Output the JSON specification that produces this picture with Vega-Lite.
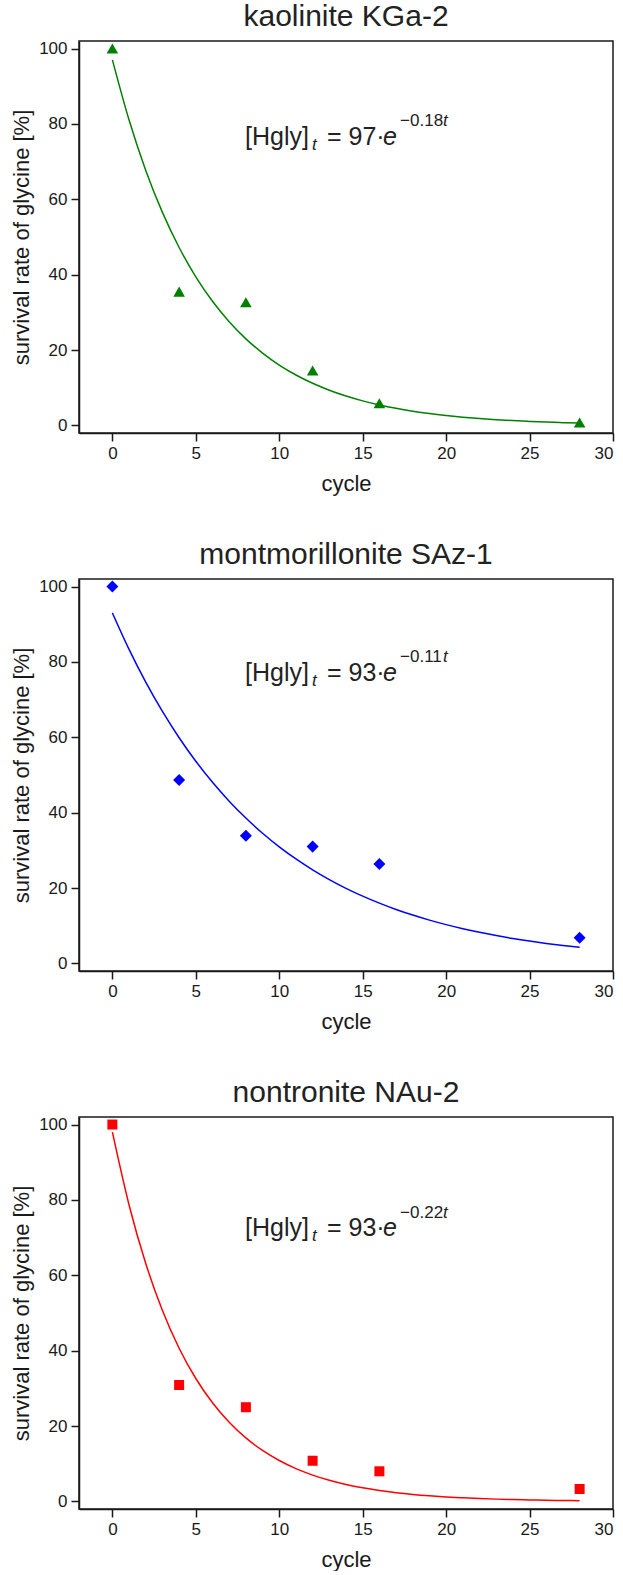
{
  "$schema": "https://vega.github.io/schema/vega-lite/v6.json",
  "background": "white",
  "padding": {"left": 9, "top": 0, "right": 0, "bottom": 0},
  "spacing": 43,
  "datasets": {
    "points": [
      {"panel": 1, "cycle": 0, "rate": 100},
      {"panel": 1, "cycle": 4, "rate": 35.5},
      {"panel": 1, "cycle": 8, "rate": 32.7},
      {"panel": 1, "cycle": 12, "rate": 14.6},
      {"panel": 1, "cycle": 16, "rate": 5.9},
      {"panel": 1, "cycle": 28, "rate": 0.8},
      {"panel": 2, "cycle": 0, "rate": 100},
      {"panel": 2, "cycle": 4, "rate": 48.7},
      {"panel": 2, "cycle": 8, "rate": 33.9},
      {"panel": 2, "cycle": 12, "rate": 31.0},
      {"panel": 2, "cycle": 16, "rate": 26.4},
      {"panel": 2, "cycle": 28, "rate": 6.8},
      {"panel": 3, "cycle": 0, "rate": 100},
      {"panel": 3, "cycle": 4, "rate": 30.9},
      {"panel": 3, "cycle": 8, "rate": 25.0},
      {"panel": 3, "cycle": 12, "rate": 10.8},
      {"panel": 3, "cycle": 16, "rate": 8.0},
      {"panel": 3, "cycle": 28, "rate": 3.3}
    ],
    "curves": [
      {"panel": 1, "cycle": 0, "rate": 97}, {"panel": 1, "cycle": 1, "rate": 81.02}, {"panel": 1, "cycle": 2, "rate": 67.67}, {"panel": 1, "cycle": 3, "rate": 56.53}, {"panel": 1, "cycle": 4, "rate": 47.22}, {"panel": 1, "cycle": 5, "rate": 39.44}, {"panel": 1, "cycle": 6, "rate": 32.94}, {"panel": 1, "cycle": 7, "rate": 27.52}, {"panel": 1, "cycle": 8, "rate": 22.98}, {"panel": 1, "cycle": 9, "rate": 19.2}, {"panel": 1, "cycle": 10, "rate": 16.03}, {"panel": 1, "cycle": 11, "rate": 13.39}, {"panel": 1, "cycle": 12, "rate": 11.19}, {"panel": 1, "cycle": 13, "rate": 9.34}, {"panel": 1, "cycle": 14, "rate": 7.8}, {"panel": 1, "cycle": 15, "rate": 6.52}, {"panel": 1, "cycle": 16, "rate": 5.45}, {"panel": 1, "cycle": 17, "rate": 4.55}, {"panel": 1, "cycle": 18, "rate": 3.8}, {"panel": 1, "cycle": 19, "rate": 3.17}, {"panel": 1, "cycle": 20, "rate": 2.65}, {"panel": 1, "cycle": 21, "rate": 2.21}, {"panel": 1, "cycle": 22, "rate": 1.85}, {"panel": 1, "cycle": 23, "rate": 1.54}, {"panel": 1, "cycle": 24, "rate": 1.29}, {"panel": 1, "cycle": 25, "rate": 1.08}, {"panel": 1, "cycle": 26, "rate": 0.9}, {"panel": 1, "cycle": 27, "rate": 0.75}, {"panel": 1, "cycle": 28, "rate": 0.63},
      {"panel": 2, "cycle": 0, "rate": 93}, {"panel": 2, "cycle": 1, "rate": 83.31}, {"panel": 2, "cycle": 2, "rate": 74.63}, {"panel": 2, "cycle": 3, "rate": 66.86}, {"panel": 2, "cycle": 4, "rate": 59.89}, {"panel": 2, "cycle": 5, "rate": 53.65}, {"panel": 2, "cycle": 6, "rate": 48.06}, {"panel": 2, "cycle": 7, "rate": 43.06}, {"panel": 2, "cycle": 8, "rate": 38.57}, {"panel": 2, "cycle": 9, "rate": 34.55}, {"panel": 2, "cycle": 10, "rate": 30.95}, {"panel": 2, "cycle": 11, "rate": 27.73}, {"panel": 2, "cycle": 12, "rate": 24.84}, {"panel": 2, "cycle": 13, "rate": 22.25}, {"panel": 2, "cycle": 14, "rate": 19.93}, {"panel": 2, "cycle": 15, "rate": 17.86}, {"panel": 2, "cycle": 16, "rate": 16.0}, {"panel": 2, "cycle": 17, "rate": 14.33}, {"panel": 2, "cycle": 18, "rate": 12.84}, {"panel": 2, "cycle": 19, "rate": 11.5}, {"panel": 2, "cycle": 20, "rate": 10.3}, {"panel": 2, "cycle": 21, "rate": 9.23}, {"panel": 2, "cycle": 22, "rate": 8.27}, {"panel": 2, "cycle": 23, "rate": 7.41}, {"panel": 2, "cycle": 24, "rate": 6.63}, {"panel": 2, "cycle": 25, "rate": 5.94}, {"panel": 2, "cycle": 26, "rate": 5.32}, {"panel": 2, "cycle": 27, "rate": 4.77}, {"panel": 2, "cycle": 28, "rate": 4.27},
      {"panel": 3, "cycle": 0, "rate": 98}, {"panel": 3, "cycle": 1, "rate": 78.65}, {"panel": 3, "cycle": 2, "rate": 63.12}, {"panel": 3, "cycle": 3, "rate": 50.65}, {"panel": 3, "cycle": 4, "rate": 40.65}, {"panel": 3, "cycle": 5, "rate": 32.62}, {"panel": 3, "cycle": 6, "rate": 26.18}, {"panel": 3, "cycle": 7, "rate": 21.01}, {"panel": 3, "cycle": 8, "rate": 16.86}, {"panel": 3, "cycle": 9, "rate": 13.53}, {"panel": 3, "cycle": 10, "rate": 10.86}, {"panel": 3, "cycle": 11, "rate": 8.71}, {"panel": 3, "cycle": 12, "rate": 6.99}, {"panel": 3, "cycle": 13, "rate": 5.61}, {"panel": 3, "cycle": 14, "rate": 4.5}, {"panel": 3, "cycle": 15, "rate": 3.61}, {"panel": 3, "cycle": 16, "rate": 2.9}, {"panel": 3, "cycle": 17, "rate": 2.33}, {"panel": 3, "cycle": 18, "rate": 1.87}, {"panel": 3, "cycle": 19, "rate": 1.5}, {"panel": 3, "cycle": 20, "rate": 1.2}, {"panel": 3, "cycle": 21, "rate": 0.97}, {"panel": 3, "cycle": 22, "rate": 0.78}, {"panel": 3, "cycle": 23, "rate": 0.62}, {"panel": 3, "cycle": 24, "rate": 0.5}, {"panel": 3, "cycle": 25, "rate": 0.4}, {"panel": 3, "cycle": 26, "rate": 0.32}, {"panel": 3, "cycle": 27, "rate": 0.26}, {"panel": 3, "cycle": 28, "rate": 0.21}
    ],
    "labels": [
      {"panel": 1, "part": "main", "label": "[Hgly]", "cycle": 7.95, "rate": 74.5},
      {"panel": 1, "part": "sub", "label": "t", "cycle": 11.97, "rate": 73.2},
      {"panel": 1, "part": "main", "label": "= 97·", "cycle": 12.86, "rate": 74.5},
      {"panel": 1, "part": "mainit", "label": "e", "cycle": 16.21, "rate": 74.5},
      {"panel": 1, "part": "sup", "label": "−0.18", "cycle": 17.24, "rate": 79.36},
      {"panel": 1, "part": "supit", "label": "t", "cycle": 19.82, "rate": 79.36},
      {"panel": 2, "part": "main", "label": "[Hgly]", "cycle": 7.95, "rate": 75.0},
      {"panel": 2, "part": "sub", "label": "t", "cycle": 11.97, "rate": 73.7},
      {"panel": 2, "part": "main", "label": "= 93·", "cycle": 12.86, "rate": 75.0},
      {"panel": 2, "part": "mainit", "label": "e", "cycle": 16.21, "rate": 75.0},
      {"panel": 2, "part": "sup", "label": "−0.11", "cycle": 17.24, "rate": 79.86},
      {"panel": 2, "part": "supit", "label": "t", "cycle": 19.82, "rate": 79.86},
      {"panel": 3, "part": "main", "label": "[Hgly]", "cycle": 7.95, "rate": 70.4},
      {"panel": 3, "part": "sub", "label": "t", "cycle": 11.97, "rate": 69.1},
      {"panel": 3, "part": "main", "label": "= 93·", "cycle": 12.86, "rate": 70.4},
      {"panel": 3, "part": "mainit", "label": "e", "cycle": 16.21, "rate": 70.4},
      {"panel": 3, "part": "sup", "label": "−0.22", "cycle": 17.24, "rate": 75.26},
      {"panel": 3, "part": "supit", "label": "t", "cycle": 19.82, "rate": 75.26}
    ]
  },
  "vconcat": [
    {
      "title": "kaolinite KGa-2",
      "width": 534, "height": 392,
      "layer": [
        {"data": {"name": "curves"}, "transform": [{"filter": "datum.panel == 1"}], "mark": {"type": "line", "color": "#008000", "strokeWidth": 1.5, "interpolate": "monotone"},
         "encoding": {
           "x": {"field": "cycle", "type": "quantitative", "scale": {"domain": [-2, 30], "nice": false, "zero": false}, "axis": {"values": [0, 5, 10, 15, 20, 25, 30], "title": "cycle"}},
           "y": {"field": "rate", "type": "quantitative", "scale": {"domain": [-2, 102], "nice": false, "zero": false}, "axis": {"values": [0, 20, 40, 60, 80, 100], "title": "survival rate of glycine [%]"}}}},
        {"data": {"name": "points"}, "transform": [{"filter": "datum.panel == 1"}], "mark": {"type": "point", "shape": "triangle-up", "filled": true, "opacity": 1, "color": "#008000", "size": 135},
         "encoding": {"x": {"field": "cycle", "type": "quantitative"}, "y": {"field": "rate", "type": "quantitative"}}},
        {"data": {"name": "labels"}, "transform": [{"filter": "datum.panel == 1 && datum.part == 'main'"}], "mark": {"type": "text", "align": "left", "baseline": "alphabetic", "fontSize": 25, "color": "#222"},
         "encoding": {"x": {"field": "cycle", "type": "quantitative"}, "y": {"field": "rate", "type": "quantitative"}, "text": {"field": "label"}}},
        {"data": {"name": "labels"}, "transform": [{"filter": "datum.panel == 1 && datum.part == 'mainit'"}], "mark": {"type": "text", "align": "left", "baseline": "alphabetic", "fontSize": 25, "fontStyle": "italic", "color": "#222"},
         "encoding": {"x": {"field": "cycle", "type": "quantitative"}, "y": {"field": "rate", "type": "quantitative"}, "text": {"field": "label"}}},
        {"data": {"name": "labels"}, "transform": [{"filter": "datum.panel == 1 && datum.part == 'sub'"}], "mark": {"type": "text", "align": "left", "baseline": "alphabetic", "fontSize": 17, "fontStyle": "italic", "color": "#222"},
         "encoding": {"x": {"field": "cycle", "type": "quantitative"}, "y": {"field": "rate", "type": "quantitative"}, "text": {"field": "label"}}},
        {"data": {"name": "labels"}, "transform": [{"filter": "datum.panel == 1 && datum.part == 'sup'"}], "mark": {"type": "text", "align": "left", "baseline": "alphabetic", "fontSize": 17, "color": "#222"},
         "encoding": {"x": {"field": "cycle", "type": "quantitative"}, "y": {"field": "rate", "type": "quantitative"}, "text": {"field": "label"}}},
        {"data": {"name": "labels"}, "transform": [{"filter": "datum.panel == 1 && datum.part == 'supit'"}], "mark": {"type": "text", "align": "left", "baseline": "alphabetic", "fontSize": 17, "fontStyle": "italic", "color": "#222"},
         "encoding": {"x": {"field": "cycle", "type": "quantitative"}, "y": {"field": "rate", "type": "quantitative"}, "text": {"field": "label"}}}
      ]
    },
    {
      "title": "montmorillonite SAz-1",
      "width": 534, "height": 392,
      "layer": [
        {"data": {"name": "curves"}, "transform": [{"filter": "datum.panel == 2"}], "mark": {"type": "line", "color": "#0000ff", "strokeWidth": 1.5, "interpolate": "monotone"},
         "encoding": {
           "x": {"field": "cycle", "type": "quantitative", "scale": {"domain": [-2, 30], "nice": false, "zero": false}, "axis": {"values": [0, 5, 10, 15, 20, 25, 30], "title": "cycle"}},
           "y": {"field": "rate", "type": "quantitative", "scale": {"domain": [-2, 102], "nice": false, "zero": false}, "axis": {"values": [0, 20, 40, 60, 80, 100], "title": "survival rate of glycine [%]"}}}},
        {"data": {"name": "points"}, "transform": [{"filter": "datum.panel == 2"}], "mark": {"type": "point", "shape": "diamond", "filled": true, "opacity": 1, "color": "#0000ff", "size": 145},
         "encoding": {"x": {"field": "cycle", "type": "quantitative"}, "y": {"field": "rate", "type": "quantitative"}}},
        {"data": {"name": "labels"}, "transform": [{"filter": "datum.panel == 2 && datum.part == 'main'"}], "mark": {"type": "text", "align": "left", "baseline": "alphabetic", "fontSize": 25, "color": "#222"},
         "encoding": {"x": {"field": "cycle", "type": "quantitative"}, "y": {"field": "rate", "type": "quantitative"}, "text": {"field": "label"}}},
        {"data": {"name": "labels"}, "transform": [{"filter": "datum.panel == 2 && datum.part == 'mainit'"}], "mark": {"type": "text", "align": "left", "baseline": "alphabetic", "fontSize": 25, "fontStyle": "italic", "color": "#222"},
         "encoding": {"x": {"field": "cycle", "type": "quantitative"}, "y": {"field": "rate", "type": "quantitative"}, "text": {"field": "label"}}},
        {"data": {"name": "labels"}, "transform": [{"filter": "datum.panel == 2 && datum.part == 'sub'"}], "mark": {"type": "text", "align": "left", "baseline": "alphabetic", "fontSize": 17, "fontStyle": "italic", "color": "#222"},
         "encoding": {"x": {"field": "cycle", "type": "quantitative"}, "y": {"field": "rate", "type": "quantitative"}, "text": {"field": "label"}}},
        {"data": {"name": "labels"}, "transform": [{"filter": "datum.panel == 2 && datum.part == 'sup'"}], "mark": {"type": "text", "align": "left", "baseline": "alphabetic", "fontSize": 17, "color": "#222"},
         "encoding": {"x": {"field": "cycle", "type": "quantitative"}, "y": {"field": "rate", "type": "quantitative"}, "text": {"field": "label"}}},
        {"data": {"name": "labels"}, "transform": [{"filter": "datum.panel == 2 && datum.part == 'supit'"}], "mark": {"type": "text", "align": "left", "baseline": "alphabetic", "fontSize": 17, "fontStyle": "italic", "color": "#222"},
         "encoding": {"x": {"field": "cycle", "type": "quantitative"}, "y": {"field": "rate", "type": "quantitative"}, "text": {"field": "label"}}}
      ]
    },
    {
      "title": "nontronite NAu-2",
      "width": 534, "height": 392,
      "layer": [
        {"data": {"name": "curves"}, "transform": [{"filter": "datum.panel == 3"}], "mark": {"type": "line", "color": "#ff0000", "strokeWidth": 1.5, "interpolate": "monotone"},
         "encoding": {
           "x": {"field": "cycle", "type": "quantitative", "scale": {"domain": [-2, 30], "nice": false, "zero": false}, "axis": {"values": [0, 5, 10, 15, 20, 25, 30], "title": "cycle"}},
           "y": {"field": "rate", "type": "quantitative", "scale": {"domain": [-2, 102], "nice": false, "zero": false}, "axis": {"values": [0, 20, 40, 60, 80, 100], "title": "survival rate of glycine [%]"}}}},
        {"data": {"name": "points"}, "transform": [{"filter": "datum.panel == 3"}], "mark": {"type": "point", "shape": "square", "filled": true, "opacity": 1, "color": "#ff0000", "size": 100},
         "encoding": {"x": {"field": "cycle", "type": "quantitative"}, "y": {"field": "rate", "type": "quantitative"}}},
        {"data": {"name": "labels"}, "transform": [{"filter": "datum.panel == 3 && datum.part == 'main'"}], "mark": {"type": "text", "align": "left", "baseline": "alphabetic", "fontSize": 25, "color": "#222"},
         "encoding": {"x": {"field": "cycle", "type": "quantitative"}, "y": {"field": "rate", "type": "quantitative"}, "text": {"field": "label"}}},
        {"data": {"name": "labels"}, "transform": [{"filter": "datum.panel == 3 && datum.part == 'mainit'"}], "mark": {"type": "text", "align": "left", "baseline": "alphabetic", "fontSize": 25, "fontStyle": "italic", "color": "#222"},
         "encoding": {"x": {"field": "cycle", "type": "quantitative"}, "y": {"field": "rate", "type": "quantitative"}, "text": {"field": "label"}}},
        {"data": {"name": "labels"}, "transform": [{"filter": "datum.panel == 3 && datum.part == 'sub'"}], "mark": {"type": "text", "align": "left", "baseline": "alphabetic", "fontSize": 17, "fontStyle": "italic", "color": "#222"},
         "encoding": {"x": {"field": "cycle", "type": "quantitative"}, "y": {"field": "rate", "type": "quantitative"}, "text": {"field": "label"}}},
        {"data": {"name": "labels"}, "transform": [{"filter": "datum.panel == 3 && datum.part == 'sup'"}], "mark": {"type": "text", "align": "left", "baseline": "alphabetic", "fontSize": 17, "color": "#222"},
         "encoding": {"x": {"field": "cycle", "type": "quantitative"}, "y": {"field": "rate", "type": "quantitative"}, "text": {"field": "label"}}},
        {"data": {"name": "labels"}, "transform": [{"filter": "datum.panel == 3 && datum.part == 'supit'"}], "mark": {"type": "text", "align": "left", "baseline": "alphabetic", "fontSize": 17, "fontStyle": "italic", "color": "#222"},
         "encoding": {"x": {"field": "cycle", "type": "quantitative"}, "y": {"field": "rate", "type": "quantitative"}, "text": {"field": "label"}}}
      ]
    }
  ],
  "config": {
    "font": "Liberation Sans",
    "view": {"stroke": "#1a1a1a", "strokeWidth": 1.5},
    "title": {"fontSize": 30, "fontWeight": "normal", "color": "#222", "anchor": "middle", "offset": 8},
    "axis": {
      "grid": false,
      "domainColor": "#1a1a1a", "domainWidth": 1.5,
      "tickColor": "#1a1a1a", "tickWidth": 1.5, "tickSize": 8,
      "labelFontSize": 17, "labelColor": "#1a1a1a", "labelPadding": 4,
      "titleFontSize": 22, "titleFontWeight": "normal", "titleColor": "#1a1a1a"
    },
    "axisX": {"titlePadding": 12},
    "axisY": {"titlePadding": 5}
  }
}
